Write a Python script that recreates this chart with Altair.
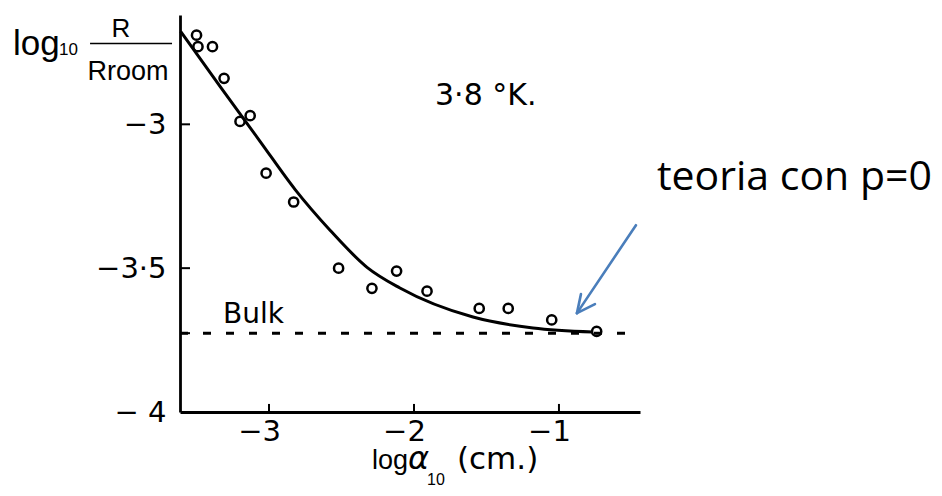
import altair as alt
import pandas as pd

# ---- data ----
pt_x = [-3.50, -3.49, -3.39, -3.31, -3.20, -3.13, -3.02, -2.83, -2.52, -2.29,
        -2.12, -1.91, -1.55, -1.35, -1.05, -0.74]
pt_y = [-2.69, -2.73, -2.73, -2.84, -2.99, -2.97, -3.17, -3.27, -3.50, -3.57,
        -3.51, -3.58, -3.64, -3.64, -3.68, -3.72]

curve_x = [-3.61, -3.338, -3.062, -2.821, -2.579, -2.324, -2.097, -1.593, -1.179, -0.766]
curve_y = [-2.677, -2.868, -3.059, -3.226, -3.368, -3.497, -3.569, -3.670, -3.708, -3.722]

bulk_level = -3.726
x_ticks = [-3, -2, -1]
y_ticks = [-3, -3.5, -4]
y_extra_ticks = [-3, -3.5, bulk_level]

XMIN, XMAX = -3.614, -0.441
YMIN, YMAX = -4.0, -2.62

xs = alt.Scale(domain=[XMIN, XMAX], nice=False, zero=False)
ys = alt.Scale(domain=[YMIN, YMAX], nice=False, zero=False)

FONT = "DejaVu Sans"
HAND = "Liberation Sans"

x_axis = alt.Axis(values=x_ticks, title=None, grid=False, ticks=False,
                  labelExpr="'\u2212' + abs(datum.value)", labelFont=FONT,
                  labelFontSize=29, labelColor="black", labelPadding=5,
                  labelOffset=-10, domainColor="black", domainWidth=2.8)
y_axis = alt.Axis(values=y_ticks, title=None, grid=False, ticks=False,
                  labelExpr="datum.value == -3 ? '\u22123' : datum.value == -3.5 ? '\u22123\u00b75' : '\u2212 4'",
                  labelFont=FONT, labelFontSize=29, labelColor="black",
                  labelPadding=14, domainColor="black", domainWidth=2.8)


def enc(xf="x", yf="y"):
    return dict(x=alt.X(f"{xf}:Q", scale=xs, axis=x_axis),
                y=alt.Y(f"{yf}:Q", scale=ys, axis=y_axis))


pts = pd.DataFrame({"x": pt_x, "y": pt_y})
crv = pd.DataFrame({"x": curve_x, "y": curve_y})

points = alt.Chart(pts).mark_point(shape="circle", filled=False, color="black",
                                   strokeWidth=2.5, size=85, opacity=1).encode(**enc())
curve = alt.Chart(crv).mark_line(color="black", strokeWidth=3,
                                 interpolate="monotone").encode(**enc())

bulk = alt.Chart(pd.DataFrame({"x": [XMIN], "x2": [XMAX], "y": [bulk_level]})).mark_rule(
    color="black", strokeWidth=3, strokeDash=[8, 15]).encode(
    **enc(), x2="x2:Q")

yt = alt.Chart(pd.DataFrame({"x": [XMIN] * 3, "x2": [XMIN + 0.069] * 3, "y": y_extra_ticks})).mark_rule(
    color="black", strokeWidth=2).encode(**enc(), x2="x2:Q")
xt = alt.Chart(pd.DataFrame({"x": x_ticks, "y": [YMIN] * 3, "y2": [YMIN + 0.028] * 3})).mark_rule(
    color="black", strokeWidth=2).encode(**enc(), y2="y2:Q")


def label(text, x, y, size, align="left", style="normal", font=FONT, color="black"):
    df = pd.DataFrame({"x": [x], "y": [y], "t": [text]})
    return alt.Chart(df).mark_text(align=align, baseline="alphabetic", fontSize=size,
                                   font=font, fontStyle=style, color=color).encode(
        **enc(), text="t:N")


texts = [
    # y title: log10 R / Rroom
    label("log", -4.766, -2.760, 35, font=HAND),
    label("10", -4.448, -2.760, 17, font=HAND),
    label("R", -4.021, -2.698, 26, align="center", font=HAND),
    label("Rroom", -3.972, -2.847, 27, align="center", font=HAND),
    # x title: log10 α (cm.)
    label("log", -2.290, -4.198, 27, font=HAND),
    label("\u03b1", -2.041, -4.198, 32, style="italic"),
    label("10", -1.910, -4.2535, 16, font=HAND),
    label("(cm.)", -1.7035, -4.198, 31),
    # annotations
    label("3\u00b78 \u00b0K.", -1.855, -2.934, 30),
    label("Bulk", -3.317, -3.691, 28),
    label("teoria con p=0", -0.324, -3.229, 41, font="Open Sans"),
]

frac = alt.Chart(pd.DataFrame({"x": [-4.2345], "x2": [-3.669], "y": [-2.719]})).mark_rule(
    color="black", strokeWidth=1.6).encode(**enc(), x2="x2:Q")

arrow_df = pd.DataFrame({
    "x": [-0.469, -0.8759, -0.8759],
    "y": [-3.3507, -3.6563, -3.6563],
    "x2": [-0.8759, -0.8483, -0.7517],
    "y2": [-3.6563, -3.5903, -3.625],
})
arrow = alt.Chart(arrow_df).mark_rule(color="#4a7ebb", strokeWidth=2.6, strokeCap="round").encode(
    **enc(), x2="x2:Q", y2="y2:Q")

chart = alt.layer(bulk, curve, points, yt, xt, frac, arrow, *texts).properties(
    width=460, height=397,
    autosize=alt.AutoSizeParams(type="none"),
    padding={"left": 172, "top": 7, "right": 294, "bottom": 76},
).configure(background="white").configure_view(stroke=None)

chart.save("out.html", embed_options={"renderer": "svg", "actions": False})
